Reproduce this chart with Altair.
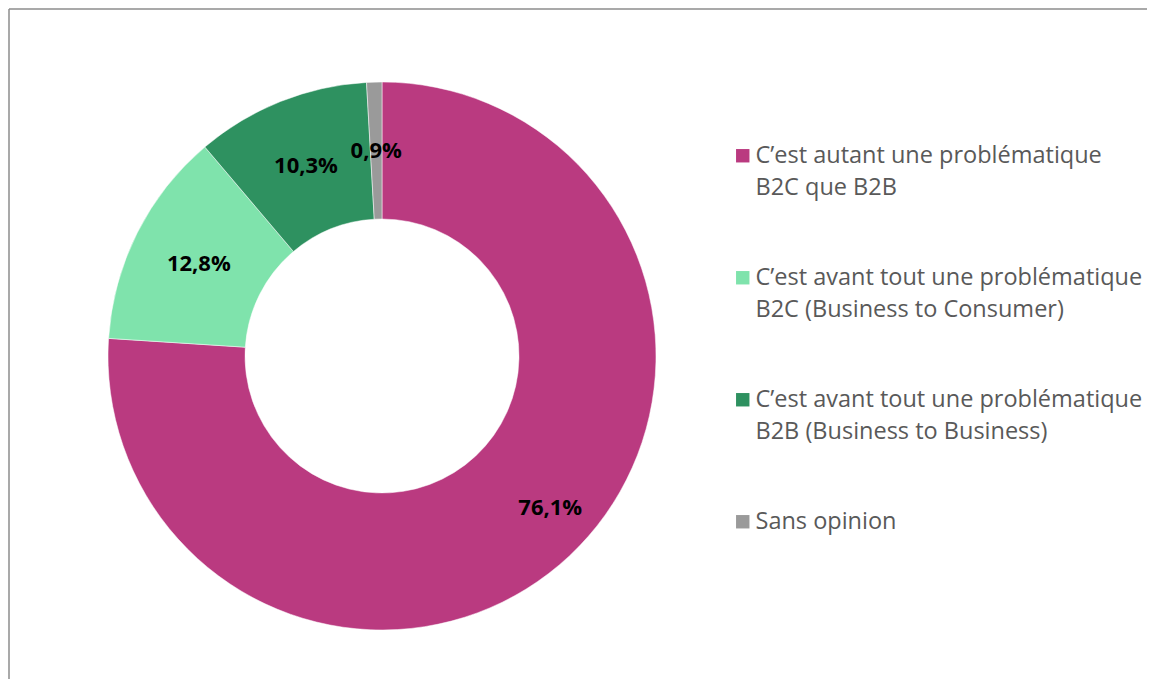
import altair as alt
import pandas as pd

categories = [
    "C’est autant une problématique\nB2C que B2B",
    "C’est avant tout une problématique\nB2C (Business to Consumer)",
    "C’est avant tout une problématique\nB2B (Business to Business)",
    "Sans opinion",
]
values = [76.1, 12.8, 10.3, 0.9]
labels = ["76,1%", "12,8%", "10,3%", "0,9%"]
colors = ["#BA3A80", "#7FE3AC", "#2E9160", "#9A9A9A"]

df = pd.DataFrame({
    "cat": categories,
    "val": values,
    "lab": labels,
    "idx": list(range(len(categories))),
})

W, H = 1138, 670
CX, CY = 373, 347

color = alt.Color(
    "cat:N",
    scale=alt.Scale(domain=categories, range=colors),
    sort=categories,
    legend=alt.Legend(
        title=None,
        orient="none",
        legendX=722,
        legendY=135,
        labelExpr="split(datum.label, '\\n')",
        labelFont="Open Sans",
        labelFontSize=23.5,
        labelColor="#595959",
        labelLimit=600,
        symbolType="square",
        symbolSize=180,
        symbolStrokeWidth=0,
        symbolOpacity=1,
        rowPadding=65,
        labelOffset=1,
        labelBaseline="middle",
    ),
)

base = alt.Chart(df).encode(
    theta=alt.Theta("val:Q", stack=True),
    order=alt.Order("idx:Q"),
)

arcs = base.mark_arc(
    outerRadius=274, innerRadius=137, stroke="#ffffff", strokeWidth=0.5
).encode(
    color=color,
    x=alt.value(CX),
    y=alt.value(CY),
)

text_main = base.mark_text(
    radius=205, font="Open Sans", fontSize=22, fontWeight="bold", color="#000000",
    dx=28, dy=2,
).encode(
    text="lab:N",
    x=alt.value(CX),
    y=alt.value(CY),
    opacity=alt.condition("datum.idx == 0", alt.value(1), alt.value(0)),
)

text_rest = base.mark_text(
    radius=205, font="Open Sans", fontSize=22, fontWeight="bold", color="#000000",
).encode(
    text="lab:N",
    x=alt.value(CX),
    y=alt.value(CY),
    opacity=alt.condition("datum.idx == 0", alt.value(0), alt.value(1)),
)

frame_df = pd.DataFrame({"k": [0]})
top_rule = alt.Chart(frame_df).mark_rule(color="#8c8c8c", strokeWidth=1.5).encode(
    x=alt.value(0), x2=alt.value(W), y=alt.value(0), y2=alt.value(0)
)
left_rule = alt.Chart(frame_df).mark_rule(color="#8c8c8c", strokeWidth=1.5).encode(
    x=alt.value(0), x2=alt.value(0), y=alt.value(0), y2=alt.value(H)
)

chart = (
    alt.layer(top_rule, left_rule, arcs, text_main, text_rest)
    .properties(width=W, height=H, padding=0)
    .configure(
        view={"stroke": "transparent", "strokeWidth": 0},
        style={"guide-label": {"lineHeight": 32}},
    )
)

chart.save("out.html", embed_options={"renderer": "svg", "actions": False})
